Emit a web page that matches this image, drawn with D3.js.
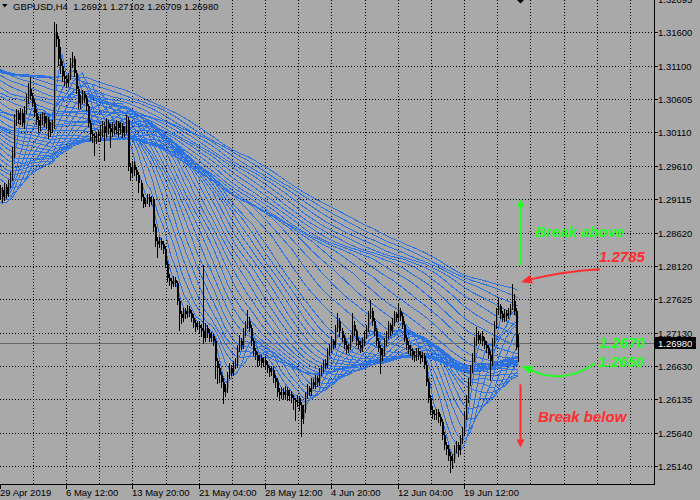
<!DOCTYPE html>
<html><head><meta charset="utf-8">
<script src="https://cdn.jsdelivr.net/npm/d3@7/dist/d3.min.js"></script>
<style>html,body{margin:0;padding:0;background:#a9a9a9;}svg{display:block;}</style>
</head><body>
<svg id="c" width="700" height="500"></svg>
<script>
// ---------------- DATA ----------------
const symbolTitle = "GBPUSD,H4";
const lastBarOHLC = ["1.26921", "1.27102", "1.26709", "1.26980"];
const bidPrice = 1.26980;

// closes before the first visible bar (only feed the moving averages)
const preHistoryCloses = [
1.3200,1.3212,1.3195,1.3180,1.3190,1.3175,1.3160,1.3185,1.3200,1.3190,1.3175,1.3180,1.3165,1.3150,1.3160,1.3140,1.3120,1.3130,1.3110,1.3095,1.3100,1.3080,1.3070,1.3060,1.3040,1.3030,1.3010,1.3000,1.3020,1.3025,1.3035,
1.3040,1.3070,1.3110,1.3140,1.3125,1.3150,1.3130,1.3180,1.3100,1.3050,1.3060,1.3120,1.3180,1.3220,1.3260,1.3300,1.3330,1.3310,1.3270,1.3240,1.3230,1.3250,1.3245,1.3260,1.3240,1.3225,1.3230,1.3250,1.3260,1.3245,1.3255,
1.3260,1.3265,1.3255,1.3270,1.3280,1.3275,1.3260,1.3270,1.3290,1.3300,1.3285,1.3270,1.3250,1.3240,1.3220,1.3200,1.3180,1.3160,1.3150,1.3140,1.3160,1.3180,1.3200,1.3150,1.3120,1.3100,1.3080,1.3140,1.3180,1.3200,1.3190,
1.3195,1.3210,1.3200,1.3220,1.3230,1.3215,1.3200,1.3210,1.3225,1.3240,1.3230,1.3215,1.3200,1.3190,1.3205,1.3220,1.3195,1.3175,1.3150,1.3140,1.3120,1.3100,1.3110,1.3090,1.3070,1.3050,1.3040,1.3020,1.3035,1.3030,1.3040,
1.3060,1.3080,1.3110,1.3120,1.3130,1.3150,1.3140,1.3120,1.3100,1.3090,1.3110,1.3130,1.3150,1.3160,1.3145,1.3140,1.3130,1.3150,1.3165,1.3155,1.3140,1.3120,1.3110,1.3100,1.3090,1.3070,1.3060,1.3050,1.3045,1.3040,1.3050,
1.3060,1.3055,1.3040,1.3050,1.3070,1.3080,1.3075,1.3065,1.3055,1.3060,1.3075,1.3085,1.3090,1.3100,1.3120,1.3110,1.3095,1.3090,1.3105,1.3115,1.3110,1.3100,1.3095,1.3085,1.3090,1.3095,1.3100,1.3090,1.3085,1.3080,1.3085,
1.3090,1.3095,1.3100,1.3105,1.3095,1.3085,1.3080,1.3075,1.3060,1.3050,1.3045,1.3040,1.3050,1.3060,1.3065,1.3055,1.3045,1.3030,1.3010,1.2995,1.2990,1.3000,1.3010,1.3005,1.3000,1.3010,1.3015,1.3010,1.3005,1.3010,1.3012,
1.3010,1.3015,1.3020,1.3030,1.3025,1.3020,1.3010,1.3000,1.2980,1.2960,1.2945,1.2950,1.2940,1.2930,1.2935,1.2920,1.2910,1.2900,1.2885,1.2875,1.2870,1.2880,1.2890,1.2895,1.2905,1.2910,1.2915,1.2920,1.2925,1.2915,1.2920,
1.2918,1.2920
];

const opens = [
1.2920,1.2925,1.2915,1.2930,1.2920,1.2935,1.2945,1.2980,1.3030,1.3040,
1.3030,1.3040,1.3025,1.3045,1.3060,1.3075,1.3065,1.3055,1.3040,1.3030,
1.3020,1.3030,1.3035,1.3025,1.3030,1.3015,1.3020,1.3025,1.3160,1.3150,
1.3120,1.3110,1.3095,1.3090,1.3085,1.3095,1.3115,1.3120,1.3100,1.3075,
1.3055,1.3060,1.3068,1.3062,1.3050,1.3025,1.3008,1.3005,1.3002,1.3008,
1.3005,1.3015,1.3020,1.3010,1.3025,1.3018,1.3012,1.3020,1.3015,1.3025,
1.3018,1.3020,1.3010,1.3015,1.3030,1.2960,1.2950,1.2962,1.2955,1.2948,
1.2935,1.2915,1.2905,1.2910,1.2915,1.2908,1.2912,1.2870,1.2850,1.2845,
1.2850,1.2845,1.2838,1.2815,1.2795,1.2790,1.2785,1.2792,1.2787,1.2760,
1.2740,1.2735,1.2745,1.2740,1.2748,1.2742,1.2735,1.2728,1.2722,1.2725,
1.2720,1.2715,1.2705,1.2720,1.2712,1.2705,1.2708,1.2700,1.2670,1.2660,
1.2650,1.2640,1.2625,1.2630,1.2650,1.2660,1.2655,1.2665,1.2668,1.2690,
1.2700,1.2695,1.2715,1.2725,1.2730,1.2720,1.2700,1.2685,1.2680,1.2670,
1.2675,1.2668,1.2672,1.2665,1.2660,1.2655,1.2658,1.2645,1.2640,1.2625,
1.2620,1.2625,1.2620,1.2628,1.2618,1.2622,1.2615,1.2612,1.2610,1.2615,
1.2605,1.2585,1.2600,1.2620,1.2630,1.2625,1.2640,1.2635,1.2645,1.2640,
1.2655,1.2660,1.2668,1.2665,1.2685,1.2690,1.2700,1.2695,1.2720,1.2730,
1.2715,1.2705,1.2695,1.2688,1.2692,1.2705,1.2725,1.2715,1.2700,1.2695,
1.2690,1.2700,1.2710,1.2720,1.2740,1.2745,1.2730,1.2715,1.2700,1.2690,
1.2680,1.2685,1.2700,1.2710,1.2725,1.2715,1.2730,1.2740,1.2735,1.2745,
1.2738,1.2725,1.2705,1.2695,1.2688,1.2685,1.2680,1.2678,1.2685,1.2680,
1.2675,1.2678,1.2665,1.2640,1.2615,1.2598,1.2592,1.2590,1.2595,1.2588,
1.2580,1.2560,1.2545,1.2540,1.2530,1.2522,1.2525,1.2540,1.2545,1.2538,
1.2555,1.2565,1.2590,1.2615,1.2640,1.2660,1.2675,1.2700,1.2710,1.2702,
1.2708,1.2700,1.2695,1.2690,1.2680,1.2670,1.2700,1.2725,1.2745,1.2752,
1.2740,1.2735,1.2742,1.2738,1.2745,1.2750,1.2760,1.2745,1.26921
];
const highs = [
1.2932,1.2930,1.2936,1.2934,1.2940,1.2952,1.2990,1.3038,1.3046,1.3044,
1.3048,1.3046,1.3050,1.3068,1.3085,1.3093,1.3070,1.3060,1.3046,1.3036,
1.3038,1.3042,1.3040,1.3036,1.3034,1.3026,1.3030,1.3176,1.3172,1.3155,
1.3138,1.3118,1.3102,1.3096,1.3100,1.3122,1.3131,1.3124,1.3104,1.3080,
1.3066,1.3074,1.3072,1.3066,1.3054,1.3030,1.3014,1.3010,1.3012,1.3014,
1.3022,1.3028,1.3026,1.3032,1.3030,1.3024,1.3026,1.3024,1.3030,1.3028,
1.3026,1.3025,1.3020,1.3037,1.3034,1.2966,1.2968,1.2968,1.2960,1.2952,
1.2940,1.2920,1.2914,1.2920,1.2920,1.2916,1.2915,1.2875,1.2856,1.2856,
1.2854,1.2850,1.2842,1.2820,1.2800,1.2795,1.2798,1.2796,1.2790,1.2765,
1.2745,1.2750,1.2749,1.2754,1.2752,1.2746,1.2740,1.2732,1.2730,1.2730,
1.2726,1.2814,1.2728,1.2725,1.2718,1.2714,1.2712,1.2704,1.2675,1.2666,
1.2655,1.2645,1.2636,1.2655,1.2668,1.2665,1.2670,1.2675,1.2695,1.2710,
1.2705,1.2720,1.2730,1.2747,1.2736,1.2724,1.2705,1.2690,1.2684,1.2680,
1.2680,1.2676,1.2678,1.2670,1.2664,1.2664,1.2662,1.2650,1.2645,1.2630,
1.2632,1.2630,1.2634,1.2632,1.2627,1.2626,1.2620,1.2616,1.2620,1.2618,
1.2610,1.2605,1.2625,1.2636,1.2634,1.2645,1.2644,1.2650,1.2648,1.2660,
1.2665,1.2672,1.2674,1.2690,1.2696,1.2706,1.2704,1.2725,1.2742,1.2734,
1.2720,1.2710,1.2700,1.2696,1.2710,1.2742,1.2730,1.2718,1.2705,1.2700,
1.2705,1.2715,1.2725,1.2745,1.2762,1.2750,1.2735,1.2720,1.2705,1.2695,
1.2690,1.2705,1.2715,1.2730,1.2728,1.2735,1.2745,1.2744,1.2757,1.2750,
1.2742,1.2730,1.2710,1.2700,1.2694,1.2690,1.2686,1.2690,1.2690,1.2685,
1.2684,1.2682,1.2670,1.2645,1.2620,1.2604,1.2598,1.2600,1.2600,1.2592,
1.2585,1.2565,1.2550,1.2546,1.2535,1.2532,1.2545,1.2552,1.2550,1.2560,
1.2572,1.2595,1.2620,1.2645,1.2665,1.2682,1.2706,1.2722,1.2715,1.2712,
1.2715,1.2706,1.2700,1.2695,1.2685,1.2705,1.2730,1.2750,1.2765,1.2756,
1.2745,1.2748,1.2746,1.2750,1.2756,1.2785,1.2770,1.2750,1.27102
];
const lows = [
1.2912,1.2908,1.2910,1.2914,1.2916,1.2930,1.2940,1.2975,1.3022,1.3025,
1.3024,1.3020,1.3018,1.3040,1.3055,1.3060,1.3050,1.3035,1.3024,1.3012,
1.3014,1.3024,1.3020,1.3018,1.3003,1.3005,1.3012,1.3018,1.3140,1.3112,
1.3100,1.3088,1.3082,1.3078,1.3080,1.3090,1.3108,1.3095,1.3070,1.3048,
1.3048,1.3055,1.3056,1.3045,1.3020,1.3000,1.2996,1.2977,1.2995,1.2998,
1.2998,1.3006,1.2970,1.3004,1.3010,1.2990,1.3006,1.3008,1.3010,1.3005,
1.3010,1.3004,1.3005,1.3010,1.2955,1.2940,1.2945,1.2948,1.2940,1.2922,
1.2910,1.2900,1.2902,1.2906,1.2902,1.2904,1.2864,1.2842,1.2825,1.2840,
1.2838,1.2832,1.2810,1.2790,1.2784,1.2780,1.2782,1.2782,1.2755,1.2717,
1.2728,1.2730,1.2735,1.2736,1.2738,1.2730,1.2722,1.2716,1.2718,1.2714,
1.2708,1.2698,1.2700,1.2706,1.2700,1.2700,1.2694,1.2645,1.2638,1.2640,
1.2632,1.2608,1.2618,1.2624,1.2645,1.2650,1.2650,1.2660,1.2662,1.2685,
1.2688,1.2690,1.2710,1.2720,1.2715,1.2695,1.2680,1.2674,1.2664,1.2665,
1.2662,1.2664,1.2660,1.2655,1.2648,1.2650,1.2640,1.2632,1.2618,1.2612,
1.2615,1.2614,1.2615,1.2612,1.2612,1.2610,1.2600,1.2583,1.2604,1.2598,
1.2559,1.2578,1.2595,1.2615,1.2620,1.2620,1.2630,1.2630,1.2634,1.2635,
1.2650,1.2655,1.2660,1.2662,1.2680,1.2684,1.2690,1.2692,1.2715,1.2708,
1.2700,1.2690,1.2682,1.2684,1.2688,1.2700,1.2710,1.2695,1.2690,1.2684,
1.2685,1.2695,1.2705,1.2715,1.2735,1.2725,1.2710,1.2695,1.2685,1.2653,
1.2672,1.2680,1.2695,1.2705,1.2710,1.2712,1.2725,1.2730,1.2730,1.2732,
1.2720,1.2700,1.2688,1.2682,1.2680,1.2674,1.2670,1.2672,1.2674,1.2668,
1.2670,1.2660,1.2635,1.2610,1.2592,1.2586,1.2584,1.2585,1.2580,1.2575,
1.2555,1.2540,1.2532,1.2524,1.2506,1.2512,1.2520,1.2535,1.2530,1.2532,
1.2548,1.2560,1.2585,1.2610,1.2635,1.2655,1.2670,1.2695,1.2698,1.2698,
1.2695,1.2690,1.2684,1.2675,1.2643,1.2665,1.2695,1.2720,1.2740,1.2735,
1.2730,1.2730,1.2732,1.2734,1.2740,1.2748,1.2740,1.2688,1.26709
];
const closes = [
1.2925,1.2915,1.2930,1.2920,1.2935,1.2945,1.2980,1.3030,1.3040,1.3030,
1.3040,1.3025,1.3045,1.3060,1.3075,1.3065,1.3055,1.3040,1.3030,1.3020,
1.3030,1.3035,1.3025,1.3030,1.3015,1.3020,1.3025,1.3160,1.3150,1.3120,
1.3110,1.3095,1.3090,1.3085,1.3095,1.3115,1.3120,1.3100,1.3075,1.3055,
1.3060,1.3068,1.3062,1.3050,1.3025,1.3008,1.3005,1.3002,1.3008,1.3005,
1.3015,1.3020,1.3010,1.3025,1.3018,1.3012,1.3020,1.3015,1.3025,1.3018,
1.3020,1.3010,1.3015,1.3030,1.2960,1.2950,1.2962,1.2955,1.2948,1.2935,
1.2915,1.2905,1.2910,1.2915,1.2908,1.2912,1.2870,1.2850,1.2845,1.2850,
1.2845,1.2838,1.2815,1.2795,1.2790,1.2785,1.2792,1.2787,1.2760,1.2740,
1.2735,1.2745,1.2740,1.2748,1.2742,1.2735,1.2728,1.2722,1.2725,1.2720,
1.2715,1.2705,1.2720,1.2712,1.2705,1.2708,1.2700,1.2670,1.2660,1.2650,
1.2640,1.2625,1.2630,1.2650,1.2660,1.2655,1.2665,1.2668,1.2690,1.2700,
1.2695,1.2715,1.2725,1.2730,1.2720,1.2700,1.2685,1.2680,1.2670,1.2675,
1.2668,1.2672,1.2665,1.2660,1.2655,1.2658,1.2645,1.2640,1.2625,1.2620,
1.2625,1.2620,1.2628,1.2618,1.2622,1.2615,1.2612,1.2610,1.2615,1.2605,
1.2585,1.2600,1.2620,1.2630,1.2625,1.2640,1.2635,1.2645,1.2640,1.2655,
1.2660,1.2668,1.2665,1.2685,1.2690,1.2700,1.2695,1.2720,1.2730,1.2715,
1.2705,1.2695,1.2688,1.2692,1.2705,1.2725,1.2715,1.2700,1.2695,1.2690,
1.2700,1.2710,1.2720,1.2740,1.2745,1.2730,1.2715,1.2700,1.2690,1.2680,
1.2685,1.2700,1.2710,1.2725,1.2715,1.2730,1.2740,1.2735,1.2745,1.2738,
1.2725,1.2705,1.2695,1.2688,1.2685,1.2680,1.2678,1.2685,1.2680,1.2675,
1.2678,1.2665,1.2640,1.2615,1.2598,1.2592,1.2590,1.2595,1.2588,1.2580,
1.2560,1.2545,1.2540,1.2530,1.2522,1.2525,1.2540,1.2545,1.2538,1.2555,
1.2565,1.2590,1.2615,1.2640,1.2660,1.2675,1.2700,1.2710,1.2702,1.2708,
1.2700,1.2695,1.2690,1.2680,1.2670,1.2700,1.2725,1.2745,1.2752,1.2740,
1.2735,1.2742,1.2738,1.2745,1.2750,1.2760,1.2745,1.26921,1.26980
];

const maPeriods = [5,10,15,20,25,30,35,40,45,50,55,60,65,70,75,80,85,90,95,100,
110,120,130,140,150,160,170,180,190,200,210,220,230,240,250];

const priceTicks = [1.32095,1.31600,1.31100,1.30605,1.30110,1.29610,1.29115,1.28620,1.28120,1.27625,1.27130,1.26630,1.26135,1.25640,1.25140];
const priceTickLabels = ["1.32095","1.31600","1.31100","1.30605","1.30110","1.29610","1.29115","1.28620","1.28120","1.27625","1.27130","1.26630","1.26135","1.25640","1.25140"];
const timeTickBars = [0,33,66,99,132,165,198,231];
const timeTickLabels = ["29 Apr 2019","6 May 12:00","13 May 20:00","21 May 04:00","28 May 12:00","4 Jun 20:00","12 Jun 04:00","19 Jun 12:00"];
const gridStepBars = 16.5;

const levelAbove = 1.2785, labelAbove = "1.2785";
const levelsBelow = ["1.2670","1.2650"];
const textBreakAbove = "Break above", textBreakBelow = "Break below";

// ---------------- CHART ----------------
const W = 700, H = 500, plotR = 654, plotB = 484;
const BG = "#a9a9a9", MA_COL = "#2c72e2", GREEN = "#22ff22", RED = "#ff2d2d";
const FONT = "'Liberation Sans', Arial, sans-serif";

const svg = d3.select("#c");
const x = d3.scaleLinear().domain([0, 325]).range([-0.2, 653.05]);
const y = d3.scaleLinear().domain([1.25140, 1.31600]).range([466.3, 32.3]);

svg.append("rect").attr("width", W).attr("height", H).attr("fill", BG);
svg.append("defs").append("clipPath").attr("id", "clip")
  .append("rect").attr("x", 0).attr("y", 0).attr("width", plotR).attr("height", plotB);

const plot = svg.append("g").attr("clip-path", "url(#clip)");

// grid
const gridXs = d3.range(1, 20).map(k => Math.round(x(k * gridStepBars)) + 0.5);
plot.selectAll(".vg").data(gridXs).join("line")
  .attr("x1", d => d).attr("x2", d => d).attr("y1", 0).attr("y2", plotB)
  .attr("stroke", "#000").attr("stroke-width", 1).attr("stroke-dasharray", "1,2")
  .attr("shape-rendering", "crispEdges");
plot.selectAll(".hg").data(priceTicks).join("line")
  .attr("x1", 0).attr("x2", plotR).attr("y1", d => Math.round(y(d)) + 0.5).attr("y2", d => Math.round(y(d)) + 0.5)
  .attr("stroke", "#000").attr("stroke-width", 1).attr("stroke-dasharray", "1,2")
  .attr("shape-rendering", "crispEdges");

// bid line
plot.append("line").attr("x1", 0).attr("x2", plotR)
  .attr("y1", Math.round(y(bidPrice)) + 0.5).attr("y2", Math.round(y(bidPrice)) + 0.5)
  .attr("stroke", "#666").attr("stroke-width", 1).attr("shape-rendering", "crispEdges");

// moving average ribbon
const allCloses = preHistoryCloses.concat(closes);
const off = preHistoryCloses.length;
const maSeries = maPeriods.map(p => closes.map((c, i) => d3.mean(allCloses.slice(off + i - p + 1, off + i + 1))));
const lineGen = d3.line().x((d, i) => x(i)).y(d => y(d));
plot.append("g").selectAll("path").data(maSeries).join("path")
  .attr("d", lineGen).attr("fill", "none").attr("stroke", MA_COL).attr("stroke-width", 1)
  .attr("shape-rendering", "crispEdges");

// candles
const bars = closes.map((c, i) => ({ i, o: opens[i], h: highs[i], l: lows[i], c }));
const cg = plot.append("g").attr("shape-rendering", "crispEdges");
bars.forEach(b => {
  const xc = Math.round(x(b.i));
  const top = Math.round(y(Math.max(b.o, b.c)));
  const bot = Math.round(y(Math.min(b.o, b.c)));
  cg.append("rect").attr("x", xc).attr("y", top).attr("width", 2).attr("height", Math.max(1, bot - top))
    .attr("fill", b.c >= b.o ? "#7d7d7d" : "#000");
  cg.append("line").attr("x1", xc + 0.5).attr("x2", xc + 0.5)
    .attr("y1", Math.round(y(b.h))).attr("y2", Math.round(y(b.l)) + 1)
    .attr("stroke", "#000").attr("stroke-width", 1);
});

// annotations
const ax = Math.round(x(closes.length)) + 0.5;
function arrowHead(tipX, tipY, dx, dy, len, half, col) {
  const n = Math.hypot(dx, dy); dx /= n; dy /= n;
  const bx = tipX - dx * len, by = tipY - dy * len;
  const px = -dy, py = dx;
  svg.append("polygon").attr("fill", col)
    .attr("points", `${tipX},${tipY} ${bx + px * half},${by + py * half} ${bx - px * half},${by - py * half}`);
  return [bx, by];
}
// up arrow (green)
{
  const y0 = y(1.2813), tip = y(1.2912);
  svg.append("line").attr("x1", ax).attr("x2", ax).attr("y1", y0).attr("y2", tip + 7)
    .attr("stroke", GREEN).attr("stroke-width", 2);
  arrowHead(ax, tip, 0, -1, 8, 4, GREEN);
}
// down arrow (red)
{
  const y0 = y(1.2636), tip = y(1.2542);
  svg.append("line").attr("x1", ax).attr("x2", ax).attr("y1", y0).attr("y2", tip - 7)
    .attr("stroke", RED).attr("stroke-width", 2);
  arrowHead(ax, tip, 0, 1, 8, 4, RED);
}
// red curved arrow toward 1.2785
{
  const tipX = ax + 0.5, tipY = y(levelAbove) - 2;
  const [bx, by] = arrowHead(tipX, tipY, -16, 4.7, 11, 4.5, RED);
  svg.append("path").attr("d", `M600,${tipY - 13} Q565,${tipY - 11} ${bx},${by}`)
    .attr("fill", "none").attr("stroke", RED).attr("stroke-width", 2);
}
// green curved arrow toward 1.2670/1.2650 band
{
  const tipX = ax + 1, tipY = 366;
  const [bx, by] = arrowHead(tipX, tipY, -18.3, -7.6, 11, 4.5, GREEN);
  svg.append("path").attr("d", `M595,363.3 C575,378 550,380 ${bx},${by}`)
    .attr("fill", "none").attr("stroke", GREEN).attr("stroke-width", 2);
}
const annText = (tx, ty, s, col) => svg.append("text").attr("x", tx).attr("y", ty).text(s)
  .attr("fill", col).attr("font-family", FONT).attr("font-size", "15px")
  .attr("font-weight", "bold").attr("font-style", "italic");
annText(535, 237, textBreakAbove, GREEN);
annText(599, 262, labelAbove, RED);
annText(599, 348, levelsBelow[0], GREEN);
annText(598, 366.5, levelsBelow[1], GREEN);
annText(538, 422, textBreakBelow, RED);

// axes
svg.append("line").attr("x1", plotR + 0.5).attr("x2", plotR + 0.5).attr("y1", 0).attr("y2", plotB + 0.5)
  .attr("stroke", "#000").attr("shape-rendering", "crispEdges");
svg.append("line").attr("x1", 0).attr("x2", plotR + 0.5).attr("y1", plotB + 0.5).attr("y2", plotB + 0.5)
  .attr("stroke", "#000").attr("shape-rendering", "crispEdges");

const ya = svg.append("g");
priceTicks.forEach((t, k) => {
  const yy = Math.round(y(t)) + 0.5;
  ya.append("line").attr("x1", plotR).attr("x2", plotR + 4).attr("y1", yy).attr("y2", yy)
    .attr("stroke", "#000").attr("shape-rendering", "crispEdges");
  ya.append("text").attr("x", 658).attr("y", yy + 3.4).text(priceTickLabels[k])
    .attr("font-family", FONT).attr("font-size", "9.5px").attr("fill", "#000");
});

const xa = svg.append("g");
timeTickBars.forEach((b, k) => {
  const xx = Math.max(0, Math.round(x(b)));
  xa.append("line").attr("x1", xx + 0.5).attr("x2", xx + 0.5).attr("y1", plotB).attr("y2", plotB + 5)
    .attr("stroke", "#000").attr("shape-rendering", "crispEdges");
  xa.append("text").attr("x", xx).attr("y", 495.5).text(timeTickLabels[k])
    .attr("font-family", FONT).attr("font-size", "9.5px").attr("fill", "#000");
});

// current price box
{
  const yy = Math.round(y(bidPrice));
  svg.append("rect").attr("x", 655).attr("y", yy - 6).attr("width", 41).attr("height", 12).attr("fill", "#000");
  svg.append("text").attr("x", 658).attr("y", yy + 3.5).text(lastBarOHLC[3])
    .attr("font-family", FONT).attr("font-size", "9.5px").attr("fill", "#fff");
}

// title
svg.append("polygon").attr("points", "2,4 7.5,4 4.75,7.5").attr("fill", "#000");
svg.append("text").attr("x", 13).attr("y", 9.6).attr("xml:space", "preserve")
  .style("white-space", "pre")
  .text(symbolTitle + "  " + lastBarOHLC.join(" "))
  .attr("font-family", FONT).attr("font-size", "9.5px").attr("fill", "#000");

// chart shift marker
svg.append("polygon").attr("points", `${ax - 4},-0.5 ${ax + 4},-0.5 ${ax},3.5`).attr("fill", "#000");
</script>
</body></html>
